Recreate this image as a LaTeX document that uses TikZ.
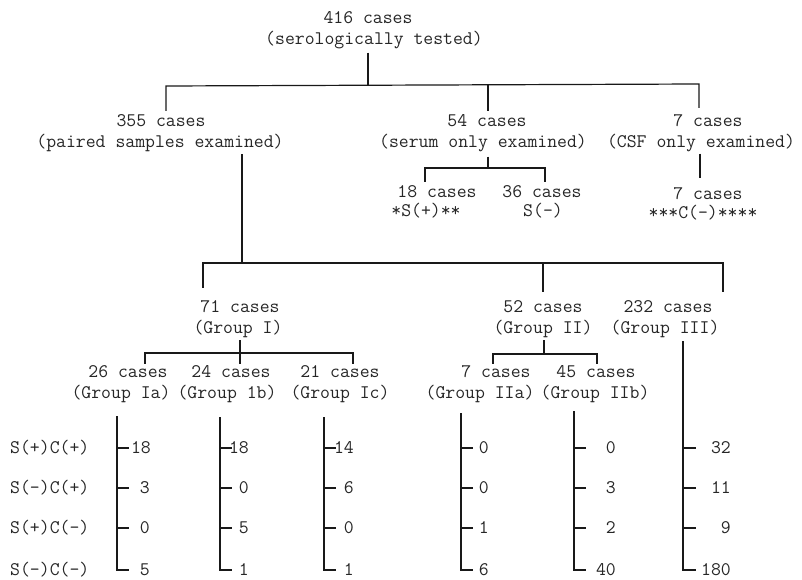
\documentclass[tikz,border=0pt]{standalone}
\tikzset{
  lbl/.style={font=\fontsize{19.2}{20}\selectfont\ttfamily, inner sep=0pt, anchor=base, text=black!85},
  numl/.style={lbl, anchor=base east},
  rowl/.style={lbl, anchor=base west},
  ln/.style={line width=1.2pt, black!90},
}
\begin{document}
\begin{tikzpicture}[x=1pt,y=-1pt]
\useasboundingbox (0,0) rectangle (802,580);
% ---- texts ----
\node[lbl] (a1) at (368,24) {416 cases};
\node[lbl] (a2) at (374,45) {(serologically tested)};
\node[lbl] (b1) at (161,127) {355 cases};
\node[lbl] (b2) at (160,148) {(paired samples examined)};
\node[lbl] (c1) at (487,127) {54 cases};
\node[lbl] (c2) at (483,148) {(serum only examined)};
\node[lbl] (d1) at (708,127) {7 cases};
\node[lbl] (d2) at (701,148) {(CSF only examined)};
\node[lbl] (e1) at (437,197) {18 cases};
\node[lbl] (e2) at (426,216) {*S(+)**};
\node[lbl] (f1) at (542,197) {36 cases};
\node[lbl] (f2) at (543,216) {S(-)};
\node[lbl] (g1) at (708,199) {7 cases};
\node[lbl] (g2) at (703,218) {***C(-)****};
\node[lbl] (h1) at (240,312) {71 cases};
\node[lbl] (h1b) at (238,333) {(Group I)};
\node[lbl] (h2) at (543,312) {52 cases};
\node[lbl] (h2b) at (543,333) {(Group II)};
\node[lbl] (h3) at (668,312) {232 cases};
\node[lbl] (h3b) at (665,333) {(Group III)};
\node[lbl] (k1) at (128,377) {26 cases};
\node[lbl] (k1b) at (121,398) {(Group Ia)};
\node[lbl] (k2) at (231,377) {24 cases};
\node[lbl] (k2b) at (227,398) {(Group 1b)};
\node[lbl] (k3) at (340,377) {21 cases};
\node[lbl] (k3b) at (340,398) {(Group Ic)};
\node[lbl] (m1) at (496,377) {7 cases};
\node[lbl] (m1b) at (480,398) {(Group IIa)};
\node[lbl] (m2) at (596,377) {45 cases};
\node[lbl] (m2b) at (595,398) {(Group IIb)};
% row labels
\node[rowl] (row1) at (10,453) {S(+)C(+)};
\node[rowl] (row2) at (10,493) {S(-)C(+)};
\node[rowl] (row3) at (10,533) {S(+)C(-)};
\node[rowl] (row4) at (10,575) {S(-)C(-)};
% ---- row heights ----
\coordinate (r1) at (0,448);
\coordinate (r2) at (0,488);
\coordinate (r3) at (0,528);
\coordinate (r4) at (0,570);
% ---- level 1 ----
\coordinate (T) at (368,85);
\coordinate (L1a) at (166,86);
\coordinate (L1b) at (488,85);
\coordinate (L1c) at (699,84);
\draw[ln] ([yshift=-3pt]a2.south -| T) -- (T);
\draw[ln] ([yshift=4pt]b1.north -| L1a) -- (L1a) -- (L1c) -- ([yshift=7pt]d1.north -| L1c);
\draw[ln] (L1b) -- ([yshift=4pt]c1.north -| L1b);
% serum split
\coordinate (S) at (488,168);
\coordinate (Sa) at (425,168);
\coordinate (Sb) at (545,168);
\draw[ln] ([yshift=-4pt]c2.south -| S) -- (S);
\draw[ln] ([yshift=3pt]e1.north -| Sa) -- (Sa) -- (Sb) -- ([yshift=3pt]f1.north -| Sb);
% CSF
\coordinate (C) at (700,0);
\draw[ln] ([yshift=-1pt]d2.south -| C) -- ([yshift=9pt]g1.north -| C);
% ---- groups ----
\coordinate (P) at (242,263);
\coordinate (G1) at (203,263);
\coordinate (G2) at (543,263);
\coordinate (G3) at (723,263);
\draw[ln] ([yshift=-2pt]b2.south -| P) -- (P);
\draw[ln] ([yshift=12pt]h1.north -| G1) -- (G1) -- (G3) -- ([yshift=8pt]h3.north -| G3);
\draw[ln] (G2) -- ([yshift=8pt]h2.north -| G2);
% group I split
\coordinate (Q1) at (240,353);
\coordinate (Q1a) at (145,353);
\coordinate (Q1c) at (353,353);
\draw[ln] ([yshift=-3pt]h1b.south -| Q1) -- (Q1) -- ([yshift=1pt]k2.north -| Q1);
\draw[ln] ([yshift=1pt]k1.north -| Q1a) -- (Q1a) -- (Q1c) -- ([yshift=1pt]k3.north -| Q1c);
% group II split
\coordinate (Q2) at (544,354);
\coordinate (Q2a) at (493,354);
\coordinate (Q2b) at (597,354);
\draw[ln] ([yshift=-3pt]h2b.south -| Q2) -- (Q2);
\draw[ln] ([yshift=1pt]m1.north -| Q2a) -- (Q2a) -- (Q2b) -- ([yshift=1pt]m2.north -| Q2b);
% ---- columns ----
\coordinate (cIa) at (117,416);
\coordinate (cIb) at (220,417);
\coordinate (cIc) at (324,417);
\coordinate (cIIa) at (461,413);
\coordinate (cIIb) at (574,411);
\coordinate (cIII) at (683,0);
\foreach \c in {cIa,cIb,cIc,cIIa,cIIb}{
  \draw[ln] (\c) -- (\c |- r4) -- ++(12,0);
  \foreach \r in {r1,r2,r3}{ \draw[ln] (\c |- \r) -- ++(12,0); }
}
\draw[ln] ([yshift=-4pt]h3b.south -| cIII) -- (cIII |- r4) -- ++(13,0);
\foreach \r in {r1,r2,r3}{ \draw[ln] (cIII |- \r) -- ++(13,0); }
% ---- numbers ----
\node[numl] (nIa1) at (151,453) {18};
\node[numl] (nIa2) at (150,493) {3};
\node[numl] (nIa3) at (150,533) {0};
\node[numl] (nIa4) at (150,575) {5};
\node[numl] (nIb1) at (249,453) {18};
\node[numl] (nIb2) at (249,493) {0};
\node[numl] (nIb3) at (249,533) {5};
\node[numl] (nIb4) at (249,575) {1};
\node[numl] (nIc1) at (354,453) {14};
\node[numl] (nIc2) at (354,493) {6};
\node[numl] (nIc3) at (354,533) {0};
\node[numl] (nIc4) at (354,575) {1};
\node[numl] (nIIa1) at (489,453) {0};
\node[numl] (nIIa2) at (489,493) {0};
\node[numl] (nIIa3) at (489,533) {1};
\node[numl] (nIIa4) at (489,575) {6};
\node[numl] (nIIb1) at (616,453) {0};
\node[numl] (nIIb2) at (616,493) {3};
\node[numl] (nIIb3) at (616,533) {2};
\node[numl] (nIIb4) at (616,575) {40};
\node[numl] (nIII1) at (731,453) {32};
\node[numl] (nIII2) at (731,493) {11};
\node[numl] (nIII3) at (731,533) {9};
\node[numl] (nIII4) at (731,575) {180};
\end{tikzpicture}
\end{document}
